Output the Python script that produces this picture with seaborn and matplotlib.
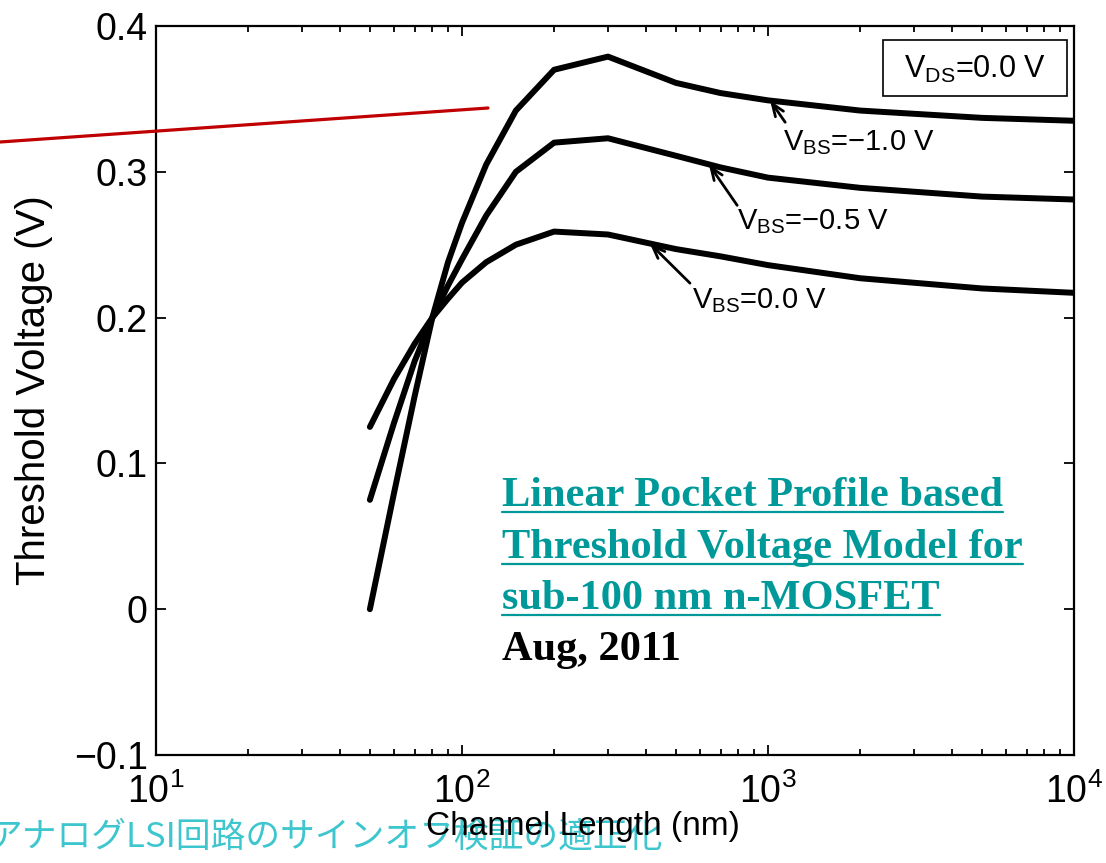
import numpy as np
import pandas as pd
import matplotlib
matplotlib.use("Agg")
import matplotlib.pyplot as plt
from matplotlib.lines import Line2D
from matplotlib.patches import Rectangle
import seaborn as sns

# Threshold voltage vs channel length for three body biases
length_nm = [50, 60, 70, 80, 90, 100, 120, 150, 200, 300, 500, 700, 1000, 2000, 5000, 10000]
vth_vbs_m10 = [0.000, 0.080, 0.146, 0.200, 0.238, 0.265, 0.305, 0.342, 0.370, 0.379,
               0.361, 0.354, 0.349, 0.342, 0.337, 0.335]
vth_vbs_m05 = [0.075, 0.128, 0.170, 0.200, 0.222, 0.240, 0.270, 0.300, 0.320, 0.323,
               0.311, 0.303, 0.296, 0.289, 0.283, 0.281]
vth_vbs_00 = [0.125, 0.158, 0.182, 0.200, 0.213, 0.224, 0.238, 0.250, 0.259, 0.257,
              0.247, 0.242, 0.236, 0.227, 0.220, 0.217]
series_names = ["-1.0", "-0.5", "0.0"]
series_values = [vth_vbs_m10, vth_vbs_m05, vth_vbs_00]

# where each curve label points to (channel length in nm)
label_tip_nm = [1016, 641, 411]
label_tail = [(1138, 0.334), (793, 0.277), (556, 0.2236)]
label_text_pos = [(1119, 0.315), (793, 0.2606), (565, 0.2064)]
label_texts = [r"$\mathregular{V_{BS}}$=−1.0 V", r"$\mathregular{V_{BS}}$=−0.5 V",
               r"$\mathregular{V_{BS}}$=0.0 V"]

xticks = [10, 100, 1000, 10000]
xtick_labels = [r"$\mathregular{10^{1}}$", r"$\mathregular{10^{2}}$",
                r"$\mathregular{10^{3}}$", r"$\mathregular{10^{4}}$"]
yticks = [-0.1, 0.0, 0.1, 0.2, 0.3, 0.4]
ytick_labels = ["−0.1", "0", "0.1", "0.2", "0.3", "0.4"]

title_lines = ["Linear Pocket Profile based", "Threshold Voltage Model for",
               "sub-100 nm n-MOSFET"]
date_text = "Aug, 2011"
footer_text = "アナログLSI回路のサインオフ検証の適正化"

sns.set_style("ticks")
plt.rcParams["font.family"] = ["Liberation Sans", "DejaVu Sans"]
plt.rcParams["mathtext.fontset"] = "custom"
plt.rcParams["mathtext.rm"] = "Liberation Sans"
plt.rcParams["mathtext.it"] = "Liberation Sans:italic"
plt.rcParams["mathtext.bf"] = "Liberation Sans:bold"
for key in ["text.color", "axes.labelcolor", "xtick.color", "ytick.color", "axes.edgecolor"]:
    plt.rcParams[key] = "black"

W, H = 1106, 863
fig = plt.figure(figsize=(W / 100, H / 100), dpi=100)
ax = fig.add_axes([156 / W, 1 - 755 / H, (1074 - 156) / W, (755 - 26) / H])

df = pd.DataFrame({
    "L": np.tile(length_nm, len(series_names)),
    "Vth": np.concatenate(series_values),
    "VBS": np.repeat(series_names, len(length_nm)),
})
sns.lineplot(data=df, x="L", y="Vth", hue="VBS", units="VBS", estimator=None,
             palette={n: "black" for n in series_names}, linewidth=4.3,
             legend=False, sort=False, ax=ax)

ax.set_xscale("log")
ax.set_xlim(10, 10000)
ax.set_ylim(-0.1, 0.4)
ax.set_xticks(xticks)
ax.set_xticklabels(xtick_labels)
ax.set_yticks(yticks)
ax.set_yticklabels(ytick_labels)
ax.tick_params(which="both", direction="in", top=True, right=True, width=1.3)
ax.tick_params(which="major", length=7, labelsize=27)
ax.tick_params(axis="x", which="major", pad=13)
ax.tick_params(axis="y", which="major", pad=6)
ax.tick_params(which="minor", length=4)
ax.tick_params(axis="y", which="minor", left=False, right=False)
for sp in ax.spines.values():
    sp.set_linewidth(1.6)

ax.set_xlabel("Channel Length (nm)", fontsize=24)
ax.set_ylabel("Threshold Voltage (V)", fontsize=29)
ax.xaxis.set_label_coords(0.465, -0.077)
ax.yaxis.set_label_coords(-0.112, 0.5)

# curve labels with arrows
for vals, tip_nm, tail, tpos, txt in zip(series_values, label_tip_nm, label_tail,
                                         label_text_pos, label_texts):
    tip_v = np.interp(np.log10(tip_nm), np.log10(length_nm), vals)
    ax.annotate("", xy=(tip_nm, tip_v), xytext=tail,
                arrowprops=dict(arrowstyle="->,head_length=0.9,head_width=0.35",
                                lw=2.0, color="black", shrinkA=0, shrinkB=0))
    ax.text(tpos[0], tpos[1], txt, fontsize=21, ha="left", va="baseline")

# drain bias box
ax.add_patch(Rectangle(((883 - 156) / 918, (755 - 96) / 729), 184 / 918, 56 / 729,
                       transform=ax.transAxes, fill=False, lw=1.2, ec="black"))
ax.text((975 - 156) / 918, (755 - 78) / 729, r"$\mathregular{V_{DS}}$=0.0 V",
        transform=ax.transAxes, fontsize=22, ha="center", va="baseline")

# red guide line
fig.add_artist(Line2D([0, 488 / W], [1 - 142 / H, 1 - 108 / H], transform=fig.transFigure,
                      color="#c00000", lw=2.3))

# publication note
teal = "#009999"
baselines = [506, 558, 609]
txt_objs = []
for line, yb in zip(title_lines, baselines):
    t = fig.text(502 / W, 1 - yb / H, line, fontsize=30.5, fontweight="bold",
                 family="Liberation Serif", color=teal, ha="left", va="baseline")
    txt_objs.append((t, yb))
fig.text(502 / W, 1 - 660 / H, date_text, fontsize=30.5, fontweight="bold",
         family="Liberation Serif", color="black", ha="left", va="baseline")

fig.text(-12 / W, 1 - 847 / H, footer_text, fontsize=25,
         family=["Noto Sans CJK JP", "DejaVu Sans"], color="#3ec6cf",
         ha="left", va="baseline", zorder=-1)

fig.canvas.draw()
renderer = fig.canvas.get_renderer()
for t, yb in txt_objs:
    bb = t.get_window_extent(renderer)
    yl = 1 - (yb + 6) / H
    fig.add_artist(Line2D([bb.x0 / W, bb.x1 / W], [yl, yl], transform=fig.transFigure,
                          color=teal, lw=1.6))

fig.savefig("out.png", dpi=100)
